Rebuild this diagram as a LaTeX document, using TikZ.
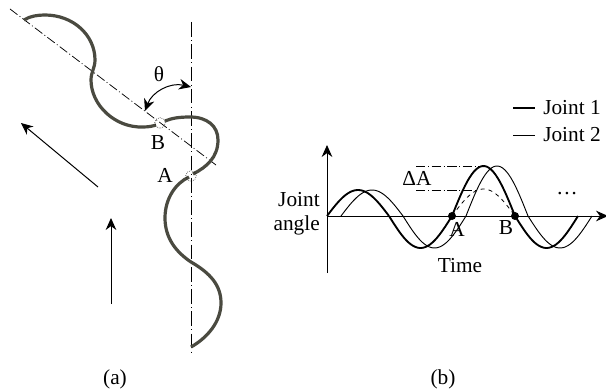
\documentclass[tikz,border=0pt]{standalone}
\usepackage{fontspec}
\setmainfont{Liberation Serif}
\usetikzlibrary{arrows.meta}
\definecolor{snakecol}{RGB}{74,74,64}
\tikzset{
  lbl/.style={inner sep=0pt,font=\fontsize{16}{18}\selectfont,text=black},
  snake/.style={line width=2.4pt,color=snakecol},
  axisline/.style={line width=0.75pt,-{Stealth[length=9pt,width=8pt]}},
  centre/.style={line width=0.55pt,dash pattern=on 7pt off 2pt on 0.7pt off 2pt},
  centrelong/.style={line width=0.55pt,dash pattern=on 11pt off 2.5pt on 0.7pt off 2.5pt},
  joint one/.style={line width=1.4pt},
  joint two/.style={line width=0.7pt},
  joint mark/.style={circle,fill=black,inner sep=0pt,minimum size=6pt},
  hinge/.style={circle,draw,densely dotted,line width=0.45pt,inner sep=0pt,minimum size=8pt}
}
\begin{document}
\begin{tikzpicture}[x=0.75pt,y=-0.75pt]
\useasboundingbox (0,0) rectangle (606,392);
% (a)
\coordinate (diagS) at (10,9); \coordinate (diagE) at (216,165);
\coordinate (vertS) at (191,22); \coordinate (vertE) at (191,355);
\draw[centre] (diagS) -- (diagE);
\draw[centrelong] (vertS) -- (vertE);
\draw[snake] (24,20) .. controls (30,16) and (38,15) .. (45,15)
  .. controls (73,15) and (95,35) .. (95,60)
  .. controls (95,68) and (91,72) .. (91,80)
  .. controls (91,105) and (115,128) .. (143,127)
  .. controls (149,127) and (153,126) .. (156,125);
\draw[snake] (165,121) .. controls (172,118) and (180,117) .. (190,117)
  .. controls (207,117) and (218,126) .. (218,140)
  .. controls (218,157) and (207,167) .. (193,174);
\draw[snake] (189,177) .. controls (176,183) and (165,198) .. (165,218)
  .. controls (165,238) and (176,252) .. (191,262)
  .. controls (210,273) and (221,285) .. (221,303)
  .. controls (221,322) and (207,338) .. (191,347);
\node[hinge] (hingeB) at (160,123) {};
\node[hinge] (hingeA) at (191,176) {};
\coordinate (thetaR) at (191,87); \coordinate (thetaL) at (145,111);
\draw[line width=0.75pt,{Stealth[length=9pt,width=8pt]}-{Stealth[length=9pt,width=8pt]}]
  (thetaL) .. controls (152,92) and (170,82) .. (thetaR);
\node[lbl] (theta) at (159,74) {θ};
\node[lbl] (labB) at (158,143) {B};
\node[lbl] (labA) at (165,175) {A};
\coordinate (a1s) at (98,187); \coordinate (a1e) at (21,123);
\coordinate (a2s) at (111,304); \coordinate (a2e) at (111,218);
\draw[axisline] (a1s) -- (a1e);
\draw[axisline] (a2s) -- (a2e);
\node[lbl] (capA) at (115,379) {(a)};
% (b)
\coordinate (o) at (327,216);
\coordinate (yb) at (327,273); \coordinate (yt) at (327,145);
\coordinate (xe) at (608,216);
\draw[axisline] (yb) -- (yt);
\draw[axisline] (o) -- (xe);
% Joint 1
\draw[joint one,domain=0:1,samples=30,smooth]
  plot ({327+62*\x},{216-26*sin(180*\x)});
\draw[joint one,domain=0:1,samples=30,smooth]
  plot ({389+63*\x},{216+32*sin(180*\x)});
\draw[joint one,domain=0:1,samples=30,smooth]
  plot ({452+63*\x},{216-50*sin(180*\x)});
\draw[joint one,domain=0:1,samples=30,smooth]
  plot ({515+63*\x},{216+32*sin(180*\x)});
% Joint 2
\draw[joint two,domain=0:1,samples=30,smooth]
  plot ({341+62*\x},{216-26*sin(180*\x)});
\draw[joint two,domain=0:1,samples=30,smooth]
  plot ({403+63*\x},{216+32*sin(180*\x)});
\draw[joint two,domain=0:1,samples=30,smooth]
  plot ({466+62*\x},{216-50*sin(180*\x)});
\draw[joint two,domain=0:1,samples=30,smooth]
  plot ({528+64*\x},{216+32*sin(180*\x)});
\node[joint mark] (pA) at (452,216) {};
\node[joint mark] (pB) at (515,216) {};
\draw[line width=0.6pt,dashed,domain=0:1,samples=30,smooth]
  plot ({452+63*\x},{216-27*sin(180*\x)});
\coordinate (d1s) at (416,166); \coordinate (d1e) at (483,166);
\coordinate (d2s) at (416,190); \coordinate (d2e) at (478,190);
\draw[centre] (d1s) -- (d1e);
\draw[centre] (d2s) -- (d2e);
\node[lbl] (dA) at (417,178) {ΔA};
\node[lbl,anchor=east] (j1) at (320,200) {Joint};
\node[lbl,anchor=east] (j2) at (320,225) {angle};
\node[lbl] (lA) at (457,229) {A};
\node[lbl] (lB) at (506,228) {B};
\node[lbl] (lT) at (460,266) {Time};
\node[lbl] (dots) at (567,194) {…};
\coordinate (l1s) at (513,108); \coordinate (l1e) at (535,108);
\coordinate (l2s) at (513,135); \coordinate (l2e) at (535,135);
\draw[joint one] (l1s) -- (l1e);
\draw[joint two] (l2s) -- (l2e);
\node[lbl,anchor=west] (t1) at (543,108) {Joint 1};
\node[lbl,anchor=west] (t2) at (543,135) {Joint 2};
\node[lbl] (capB) at (443,379) {(b)};
\end{tikzpicture}
\end{document}
